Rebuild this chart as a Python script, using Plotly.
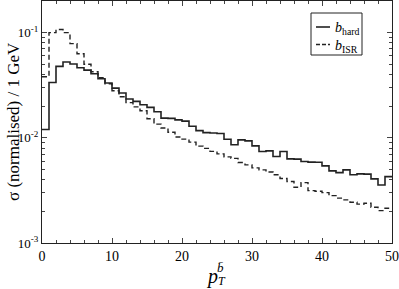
import numpy as np
import plotly.graph_objects as go

# bin low edges (GeV), 1 GeV bins from 0 to 50
bin_edges = list(range(0, 51))

b_hard = [0.0120, 0.0336, 0.0478, 0.0526, 0.0504, 0.0464, 0.0440, 0.0407, 0.0365, 0.0332,
          0.0297, 0.0267, 0.0234, 0.0222, 0.0206, 0.0195, 0.0177, 0.0154, 0.0153, 0.0148,
          0.0144, 0.0129, 0.0117, 0.0112, 0.0111, 0.0110, 0.00968, 0.00858, 0.00957, 0.00936,
          0.00839, 0.00741, 0.00752, 0.00664, 0.00741, 0.00631, 0.00627, 0.00595, 0.00587, 0.00585,
          0.00541, 0.00485, 0.00467, 0.00496, 0.00445, 0.00454, 0.00452, 0.00407, 0.00356, 0.00428]

b_isr = [0.0381, 0.100, 0.107, 0.100, 0.0786, 0.0631, 0.0501, 0.0425, 0.0373, 0.0327,
         0.0280, 0.0246, 0.0216, 0.0197, 0.0181, 0.0152, 0.0135, 0.0124, 0.0113, 0.0102,
         0.00972, 0.00910, 0.00834, 0.00794, 0.00744, 0.00704, 0.00659, 0.00638, 0.00582, 0.00553,
         0.00518, 0.00496, 0.00474, 0.00445, 0.00411, 0.00384, 0.00339, 0.00375, 0.00315, 0.00310,
         0.00301, 0.00282, 0.00267, 0.00257, 0.00244, 0.00234, 0.00239, 0.00219, 0.00203, 0.00214]

series_names = ["<i>b</i><sub>hard</sub>", "<i>b</i><sub>ISR</sub>"]

x_ticks = [0, 10, 20, 30, 40, 50]
y_ticks = [1e-3, 1e-2, 1e-1]
y_ticktext = ["10<sup>-3</sup>", "10<sup>-2</sup>", "10<sup>-1</sup>"]
y_minor = [m * 10.0 ** e for e in (-3, -2) for m in range(2, 10)]

FONT = "Liberation Serif"
INK = "#222222"
DASH = "5px,3px"

# plot area in pixels
L, R, T, B = 42, 7, 1, 46
W, H = 399, 289
PW, PH = W - L - R, H - T - B


def px(xpix):
    return (xpix - L) / PW


def py(ypix):
    return (H - B - ypix) / PH


def steps(vals):
    return bin_edges, list(vals) + [vals[-1]]


fig = go.Figure()
xs, ys = steps(b_hard)
fig.add_trace(go.Scatter(x=xs, y=ys, mode="lines", line_shape="hv",
                         line=dict(color=INK, width=1.6), name=series_names[0]))
xs, ys = steps(b_isr)
fig.add_trace(go.Scatter(x=xs, y=ys, mode="lines", line_shape="hv",
                         line=dict(color=INK, width=1.4, dash=DASH), name=series_names[1]))

fig.update_layout(
    width=W, height=H,
    margin=dict(l=L, r=R, t=T, b=B),
    paper_bgcolor="white", plot_bgcolor="white",
    font=dict(family=FONT, size=14, color="black"),
    showlegend=False,
    xaxis=dict(range=[0, 50], tickvals=x_ticks, ticks="inside", ticklen=5,
               showline=True, linecolor=INK, linewidth=1, mirror="allticks",
               showgrid=False, zeroline=False, automargin=False,
               ticklabeloverflow="allow",
               minor=dict(dtick=2, tick0=0, ticks="inside", ticklen=3, showgrid=False),
               tickfont=dict(family=FONT, size=14)),
    yaxis=dict(type="log", range=[-3, np.log10(0.2)], tickvals=y_ticks, ticktext=y_ticktext,
               ticks="inside", ticklen=5,
               showline=True, linecolor=INK, linewidth=1, mirror="allticks",
               showgrid=False, zeroline=False, automargin=False,
               ticklabeloverflow="allow",
               minor=dict(tickmode="array", tickvals=y_minor, ticks="inside", ticklen=3,
                          showgrid=False),
               tickfont=dict(family=FONT, size=13)),
)

# y-axis title
fig.add_annotation(text="σ (normalised) / 1 GeV", xref="paper", yref="paper",
                   x=px(13), y=0.5, textangle=-90, xanchor="center", yanchor="middle",
                   showarrow=False, font=dict(family=FONT, size=17))

# x-axis title p_T^{b-bar}
fig.add_annotation(text="<i>p</i>", xref="paper", yref="paper", x=px(212), y=0,
                   yshift=-33, yanchor="middle", showarrow=False, font=dict(family=FONT, size=20))
fig.add_annotation(text="<i>T</i>", xref="paper", yref="paper", x=px(222), y=0,
                   yshift=-38, yanchor="middle", showarrow=False, font=dict(family=FONT, size=12))
fig.add_annotation(text="<i>b̄</i>", xref="paper", yref="paper", x=px(220), y=0,
                   yshift=-24, yanchor="middle", showarrow=False, font=dict(family=FONT, size=13))

# legend box
fig.add_shape(type="rect", xref="paper", yref="paper", x0=px(311), x1=px(362),
              y0=py(55), y1=py(13), line=dict(color=INK, width=1), fillcolor="white")
legend_rows = [(27, dict(color=INK, width=1.6)), (44.5, dict(color=INK, width=1.4, dash="4px,2px"))]
for name, (ry, lstyle) in zip(series_names, legend_rows):
    fig.add_shape(type="line", xref="paper", yref="paper", x0=px(316), x1=px(330),
                  y0=py(ry), y1=py(ry), line=lstyle)
    fig.add_annotation(text=name, xref="paper", yref="paper", x=px(333), y=py(ry + 2),
                       xanchor="left", yanchor="middle", showarrow=False,
                       font=dict(family=FONT, size=14))

fig.write_html("out.html", config={"displayModeBar": False},
               post_script="document.body.style.margin='0px';")
